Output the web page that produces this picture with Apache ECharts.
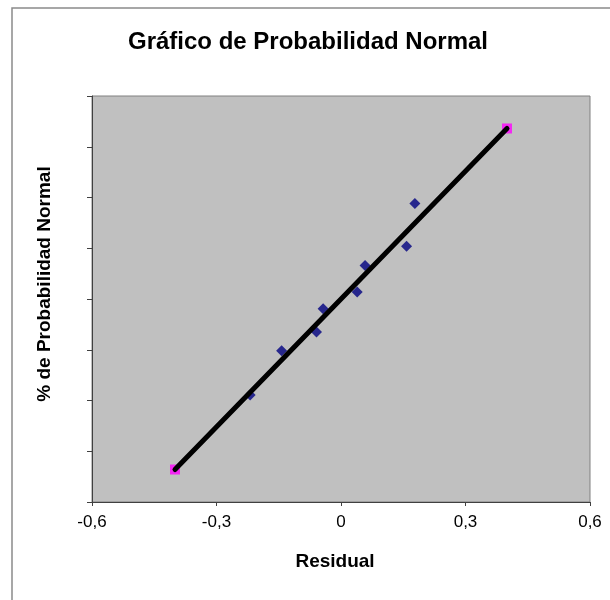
<!DOCTYPE html>
<html>
<head>
<meta charset="utf-8">
<script src="https://cdn.jsdelivr.net/npm/echarts@6/dist/echarts.min.js"></script>
<style>html,body{margin:0;padding:0;background:#fff;}#c{width:610px;height:600px;}</style>
</head>
<body>
<div id="c"></div>
<script>
// Data
const residuals = [-0.219, -0.143, -0.059, -0.043, 0.039, 0.058, 0.158, 0.178];
const normalScores = [-1.89, -1.02, -0.65, -0.19, 0.14, 0.66, 1.04, 1.88];
const fitX = [-0.4, 0.4];
const fitY = [-3.36, 3.36];

const font = '"Liberation Sans", Arial, sans-serif';
const chart = echarts.init(document.getElementById('c'), null, {renderer: 'canvas'});
chart.setOption({
  animation: false,
  backgroundColor: '#ffffff',
  title: {
    text: 'Gráfico de Probabilidad Normal',
    left: 303, top: 25, textAlign: 'center',
    textStyle: {fontFamily: font, fontSize: 24, fontWeight: 'bold', color: '#000'}
  },
  graphic: [
    {type: 'rect', shape: {x: 12, y: 8, width: 700, height: 700}, style: {fill: 'none', stroke: '#8a8a8a', lineWidth: 1.5}, silent: true, z: -10},
    {type: 'text', x: 45, y: 284, rotation: Math.PI / 2,
      style: {text: '% de Probabilidad Normal', fill: '#000', font: 'bold 19px ' + font, textAlign: 'center', textVerticalAlign: 'middle'}},
    {type: 'text', x: 335, y: 562,
      style: {text: 'Residual', fill: '#000', font: 'bold 19px ' + font, textAlign: 'center', textVerticalAlign: 'middle'}}
  ],
  grid: {left: 92, top: 96, width: 498, height: 406, show: true, backgroundColor: '#c0c0c0', borderColor: '#808080', borderWidth: 1},
  xAxis: {
    type: 'value', min: -0.6, max: 0.6, interval: 0.3,
    axisLine: {show: true, onZero: false, lineStyle: {color: '#404040', width: 1}},
    axisTick: {show: true, inside: false, length: 4, lineStyle: {color: '#404040'}},
    splitLine: {show: false},
    axisLabel: {
      color: '#000', fontFamily: font, fontSize: 17, margin: 12,
      formatter: v => {
        const r = Math.round(v * 10) / 10;
        return String(r).replace('.', ',');
      }
    }
  },
  yAxis: {
    type: 'value', min: -4, max: 4, interval: 1,
    axisLine: {show: true, onZero: false, lineStyle: {color: '#404040', width: 1}},
    axisTick: {show: true, inside: false, length: 5, lineStyle: {color: '#404040'}},
    splitLine: {show: false},
    axisLabel: {show: false}
  },
  series: [
    {
      type: 'scatter', z: 2,
      symbol: 'diamond', symbolSize: 11,
      itemStyle: {color: '#000080'},
      data: residuals.map((r, i) => [r, normalScores[i]])
    },
    {
      type: 'scatter', z: 2,
      symbol: 'rect', symbolSize: 10,
      itemStyle: {color: '#ff00ff'},
      data: fitX.map((x, i) => [x, fitY[i]])
    },
    {
      type: 'line', z: 5, symbol: 'none',
      lineStyle: {color: '#000', width: 5, cap: 'round'},
      data: fitX.map((x, i) => [x, fitY[i]])
    }
  ]
});
</script>
</body>
</html>
